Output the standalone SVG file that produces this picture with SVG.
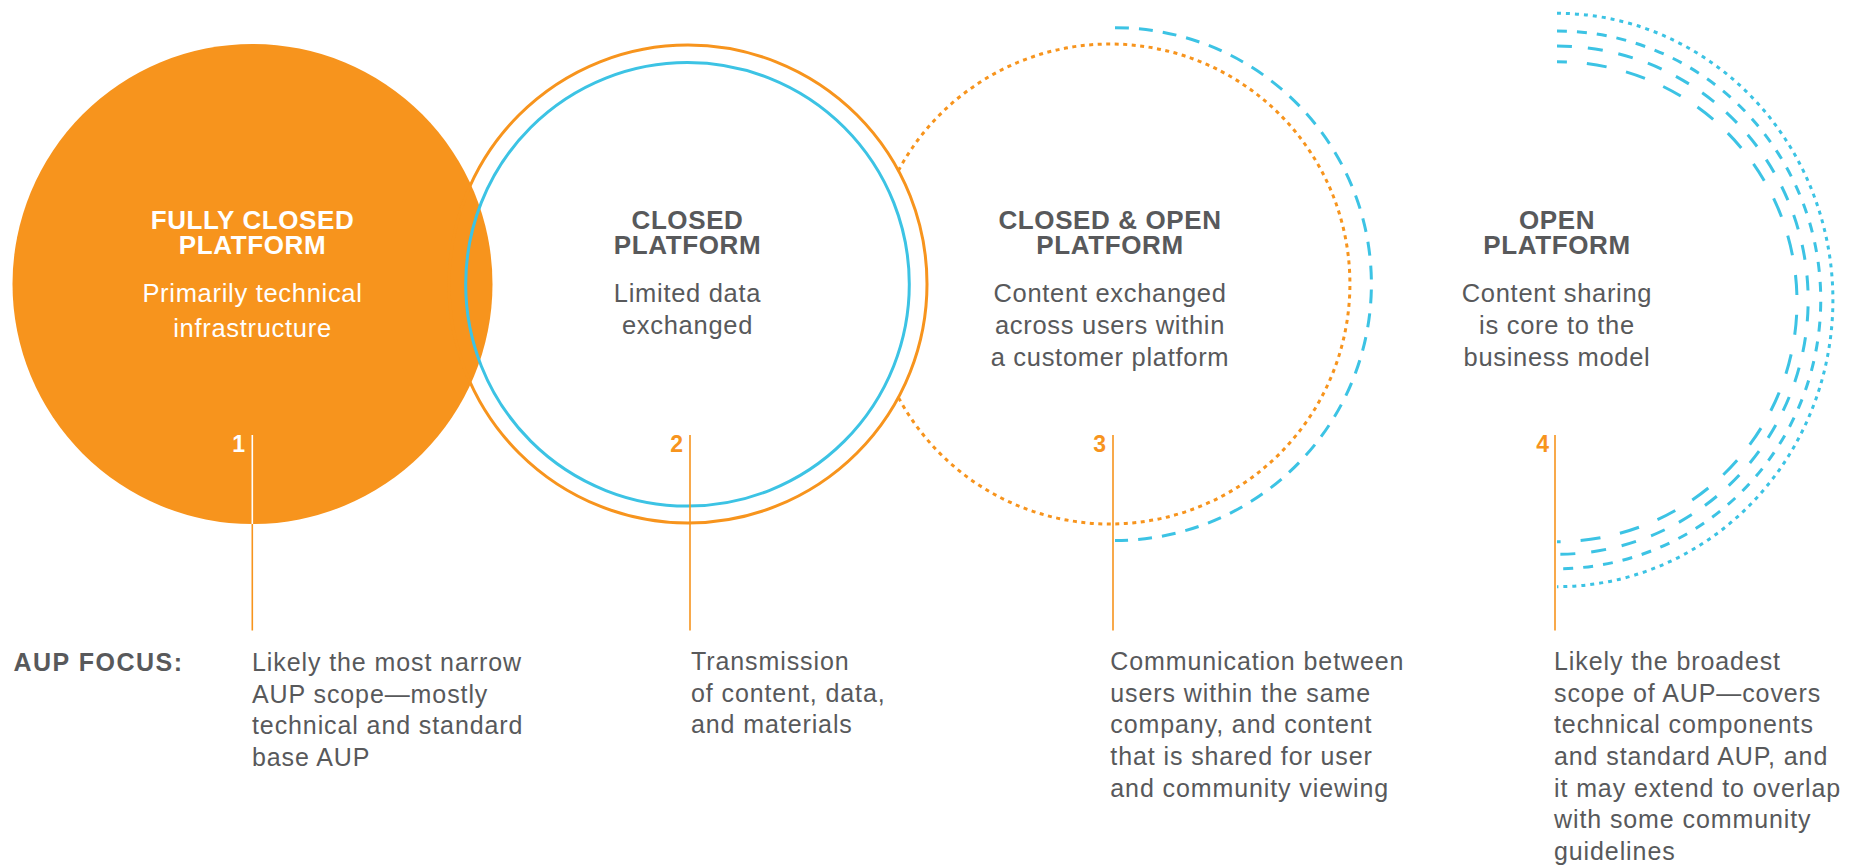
<svg xmlns="http://www.w3.org/2000/svg" width="1858" height="866" viewBox="0 0 1858 866">
<style>
.title{font-family:"Liberation Sans",Arial,sans-serif;font-weight:bold;font-size:26px;letter-spacing:0.6px;text-anchor:middle;fill:#58595B}
.sub{font-family:"Liberation Sans",Arial,sans-serif;font-size:25.5px;letter-spacing:0.7px;text-anchor:middle;fill:#58595B}
.num{font-family:"Liberation Sans",Arial,sans-serif;font-weight:bold;font-size:23px;text-anchor:end;fill:#F7941D}
.body{font-family:"Liberation Sans",Arial,sans-serif;font-size:25px;letter-spacing:0.9px;fill:#58595B}
.head{font-family:"Liberation Sans",Arial,sans-serif;font-weight:bold;font-size:25px;letter-spacing:1.5px;fill:#58595B}
.w{fill:#FFFFFF}
.ring-o{fill:none;stroke:#F7941D;stroke-width:3}
.ring-c{fill:none;stroke:#3CC3E4;stroke-width:3}
.dot-o{fill:none;stroke:#F7941D;stroke-width:3;stroke-dasharray:4 4.5}
.dot-c{fill:none;stroke:#3CC3E4;stroke-width:3;stroke-dasharray:4 5}
.lead{stroke:#F7941D;stroke-width:1.6;fill:none}
</style>
<rect width="1858" height="866" fill="#FFFFFF"/>

<g id="node-1">
  <circle cx="252.5" cy="284" r="240" fill="#F7941D"/>
</g>

<g id="node-2">
  <circle class="ring-o" cx="688" cy="284" r="239"/>
  <circle class="ring-c" cx="687.5" cy="284.3" r="221.8"/>
  <text class="title" x="687.5" y="229">CLOSED</text>
  <text class="title" x="687.5" y="254.3">PLATFORM</text>
  <text class="sub" x="687.5" y="302.4">Limited data</text>
  <text class="sub" x="687.5" y="334">exchanged</text>
  <text class="num" x="683" y="452.3">2</text>
</g>

<g id="node-3">
  <path class="dot-o" d="M 898.4 170.6 A 240 240 0 1 1 898.4 397.4"/>
  <path class="ring-c" style="stroke-dasharray:14 10" d="M 1115 27.7 A 256.3 256.3 0 0 1 1115 540.5"/>
  <text class="title" x="1110" y="229">CLOSED &amp; OPEN</text>
  <text class="title" x="1110" y="254.3">PLATFORM</text>
  <text class="sub" x="1110" y="302.4">Content exchanged</text>
  <text class="sub" x="1110" y="334">across users within</text>
  <text class="sub" x="1110" y="365.7">a customer platform</text>
  <text class="num" x="1106" y="452.3">3</text>
</g>

<g id="node-4">
  <path class="dot-c" d="M 1557 13.3 A 276 286.7 0 0 1 1557 586.7"/>
  <path class="ring-c" style="stroke-dasharray:10 10" d="M 1557 31 A 263.7 268.8 0 0 1 1557 568.7"/>
  <path class="ring-c" style="stroke-dasharray:15 16" d="M 1557 46 A 251 254 0 0 1 1557 554.3"/>
  <path class="ring-c" style="stroke-dasharray:20 20;stroke-dashoffset:10" d="M 1557 61.7 A 240 240 0 0 1 1557 541.7"/>
  <text class="title" x="1557" y="229">OPEN</text>
  <text class="title" x="1557" y="254.3">PLATFORM</text>
  <text class="sub" x="1557" y="302.4">Content sharing</text>
  <text class="sub" x="1557" y="334">is core to the</text>
  <text class="sub" x="1557" y="365.7">business model</text>
  <text class="num" x="1549" y="452.3">4</text>
</g>

<g id="node-1-labels">
  <text class="title w" x="252.5" y="229">FULLY CLOSED</text>
  <text class="title w" x="252.5" y="254.3">PLATFORM</text>
  <text class="sub w" x="252.5" y="302.4">Primarily technical</text>
  <text class="sub w" x="252.5" y="337">infrastructure</text>
  <text class="num w" x="245" y="452.3">1</text>
</g>

<g id="connectors">
  <line x1="252.3" y1="435" x2="252.3" y2="524" stroke="#FFFFFF" stroke-width="1.6"/>
  <line class="lead" x1="252.3" y1="524" x2="252.3" y2="630.5"/>
  <line class="lead" x1="690" y1="435" x2="690" y2="630.5"/>
  <line class="lead" x1="1113" y1="435" x2="1113" y2="630.5"/>
  <line class="lead" x1="1555" y1="435" x2="1555" y2="630.5"/>
</g>

<g id="aup-focus">
  <text class="head" x="13.5" y="671">AUP FOCUS:</text>
</g>

<g id="focus-1">
  <text class="body" x="252" y="671">Likely the most narrow</text>
  <text class="body" x="252" y="702.7">AUP scope—mostly</text>
  <text class="body" x="252" y="734.3">technical and standard</text>
  <text class="body" x="252" y="766">base AUP</text>
</g>

<g id="focus-2">
  <text class="body" x="691" y="670">Transmission</text>
  <text class="body" x="691" y="701.7">of content, data,</text>
  <text class="body" x="691" y="733.3">and materials</text>
</g>

<g id="focus-3">
  <text class="body" x="1110.3" y="670">Communication between</text>
  <text class="body" x="1110.3" y="701.7">users within the same</text>
  <text class="body" x="1110.3" y="733.3">company, and content</text>
  <text class="body" x="1110.3" y="765">that is shared for user</text>
  <text class="body" x="1110.3" y="796.7">and community viewing</text>
</g>

<g id="focus-4">
  <text class="body" x="1554" y="670">Likely the broadest</text>
  <text class="body" x="1554" y="701.7">scope of AUP—covers</text>
  <text class="body" x="1554" y="733.3">technical components</text>
  <text class="body" x="1554" y="765">and standard AUP, and</text>
  <text class="body" x="1554" y="796.7">it may extend to overlap</text>
  <text class="body" x="1554" y="828.3">with some community</text>
  <text class="body" x="1554" y="860">guidelines</text>
</g>
</svg>
